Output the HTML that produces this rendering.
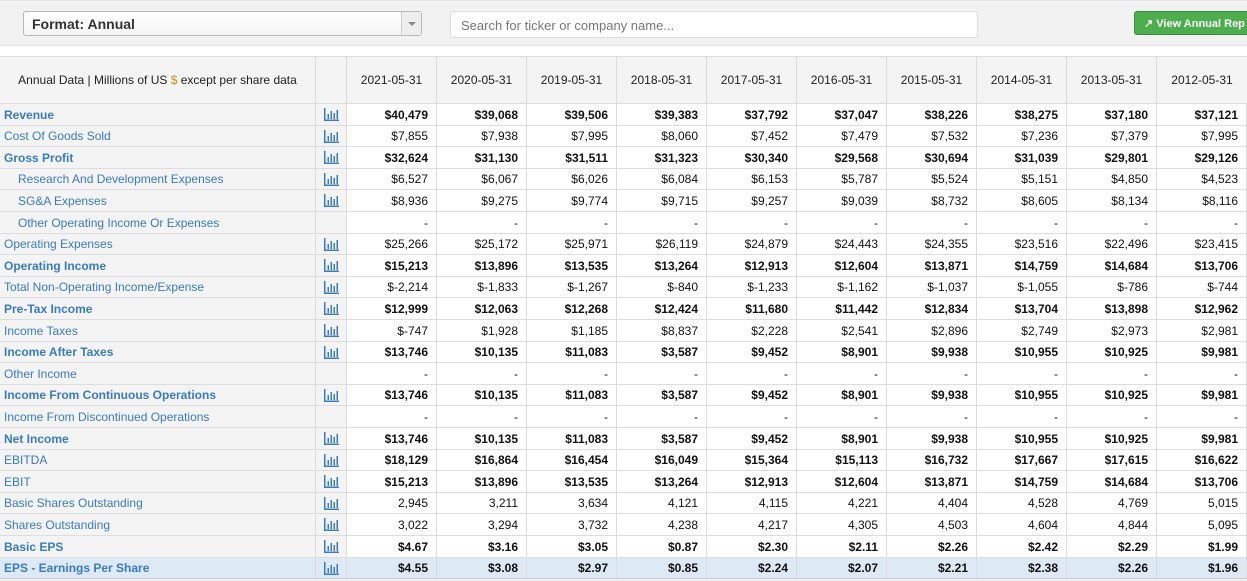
<!DOCTYPE html>
<html><head><meta charset="utf-8"><style>
*{box-sizing:border-box;margin:0;padding:0}
body{width:1247px;height:581px;overflow:hidden;background:#fff;font-family:"Liberation Sans",Arial,sans-serif;font-size:12px;position:relative}
.top{position:absolute;left:0;top:0;width:1247px;height:46px;background:#f2f2f2;border-bottom:1px solid #e2e2e2;border-top:1px solid #e6e6e6}
.sel{position:absolute;left:23px;top:10px;width:399px;height:25px;border:1px solid #b8b8b8;border-radius:3px;background:linear-gradient(#fff,#f4f4f4);font-weight:bold;font-size:14px;color:#333;padding:4px 8px}
.sel .ar{position:absolute;right:0;top:0;width:20px;height:23px;border-left:1px solid #ccc;background:#eee}
.sel .ar:after{content:"";position:absolute;left:6px;top:10px;border:4px solid transparent;border-top:4px solid #888}
.srch{position:absolute;left:450px;top:10px;width:528px;height:27px;border:1px solid #ddd;border-radius:3px;background:#fff;color:#777;font-size:13px;padding:6px 10px}
.btn{position:absolute;left:1134px;top:10px;width:120px;height:24px;border-radius:3px;background:#4cae4c;border:1px solid #3d8b3d;color:#fff;font-weight:bold;font-size:11px;padding:5px 0 0 9px;white-space:nowrap}
.tbl{position:absolute;left:0;top:56px;width:1247px;border-top:1px solid #ddd}
.r{display:flex;border-bottom:1px solid #ddd}
.c{border-right:1px solid #ddd;display:flex;align-items:center;justify-content:flex-end;padding-right:8px;color:#111}
.l{width:316px;background:#f4f4f4;justify-content:flex-start;padding-left:4px;color:#3a7bbf}
.i{width:31px;background:#f4f4f4;justify-content:center;padding:0}
.d{width:90px}
.h .c{background:#f4f4f4;justify-content:center;padding:0;color:#222}
.b .l,.b .d,.bv .d{font-weight:bold}
.ind .l{padding-left:18px}
.last .c{background:#dde9f4}
.sb{position:absolute;left:0;top:578px;width:1247px;height:3px;background:#f0f0f0;border-top:1px solid #ccc}
</style></head><body>
<div class="top">
<div class="sel">Format: Annual<div class="ar"></div></div>
<div class="srch">Search for ticker or company name...</div>
<div class="btn">&#x2197; View Annual Rep</div>
</div>
<svg width="0" height="0" style="position:absolute"><defs><g id="ic"><rect x="0" y="0" width="1.5" height="13" fill="#3a7bbf"/><rect x="0" y="11.5" width="15" height="1.5" fill="#3a7bbf"/><rect x="3.5" y="6" width="1.5" height="5" fill="#3a7bbf"/><rect x="6.5" y="3" width="1.5" height="8" fill="#3a7bbf"/><rect x="9.5" y="5" width="1.5" height="6" fill="#3a7bbf"/><rect x="12.5" y="2" width="1.5" height="9" fill="#3a7bbf"/></g></defs></svg>
<div class="tbl">
<div class="r h" style="height:47px"><div class="c l" style="justify-content:center;color:#222;padding:0">Annual Data | Millions of US&nbsp;<span style="color:#e08a00">$</span>&nbsp;except per share data</div><div class="c i"></div><div class="c d">2021-05-31</div><div class="c d">2020-05-31</div><div class="c d">2019-05-31</div><div class="c d">2018-05-31</div><div class="c d">2017-05-31</div><div class="c d">2016-05-31</div><div class="c d">2015-05-31</div><div class="c d">2014-05-31</div><div class="c d">2013-05-31</div><div class="c d" style="border-right:0">2012-05-31</div></div>

<div class="r b" style="height:22px"><div class="c l">Revenue</div><div class="c i"><svg width="15" height="13"><use href="#ic"/></svg></div><div class="c d">$40,479</div><div class="c d">$39,068</div><div class="c d">$39,506</div><div class="c d">$39,383</div><div class="c d">$37,792</div><div class="c d">$37,047</div><div class="c d">$38,226</div><div class="c d">$38,275</div><div class="c d">$37,180</div><div class="c d">$37,121</div></div>
<div class="r" style="height:21px"><div class="c l">Cost Of Goods Sold</div><div class="c i"><svg width="15" height="13"><use href="#ic"/></svg></div><div class="c d">$7,855</div><div class="c d">$7,938</div><div class="c d">$7,995</div><div class="c d">$8,060</div><div class="c d">$7,452</div><div class="c d">$7,479</div><div class="c d">$7,532</div><div class="c d">$7,236</div><div class="c d">$7,379</div><div class="c d">$7,995</div></div>
<div class="r b" style="height:22px"><div class="c l">Gross Profit</div><div class="c i"><svg width="15" height="13"><use href="#ic"/></svg></div><div class="c d">$32,624</div><div class="c d">$31,130</div><div class="c d">$31,511</div><div class="c d">$31,323</div><div class="c d">$30,340</div><div class="c d">$29,568</div><div class="c d">$30,694</div><div class="c d">$31,039</div><div class="c d">$29,801</div><div class="c d">$29,126</div></div>
<div class="r ind" style="height:21px"><div class="c l">Research And Development Expenses</div><div class="c i"><svg width="15" height="13"><use href="#ic"/></svg></div><div class="c d">$6,527</div><div class="c d">$6,067</div><div class="c d">$6,026</div><div class="c d">$6,084</div><div class="c d">$6,153</div><div class="c d">$5,787</div><div class="c d">$5,524</div><div class="c d">$5,151</div><div class="c d">$4,850</div><div class="c d">$4,523</div></div>
<div class="r ind" style="height:22px"><div class="c l">SG&amp;A Expenses</div><div class="c i"><svg width="15" height="13"><use href="#ic"/></svg></div><div class="c d">$8,936</div><div class="c d">$9,275</div><div class="c d">$9,774</div><div class="c d">$9,715</div><div class="c d">$9,257</div><div class="c d">$9,039</div><div class="c d">$8,732</div><div class="c d">$8,605</div><div class="c d">$8,134</div><div class="c d">$8,116</div></div>
<div class="r ind" style="height:22px"><div class="c l">Other Operating Income Or Expenses</div><div class="c i"></div><div class="c d">-</div><div class="c d">-</div><div class="c d">-</div><div class="c d">-</div><div class="c d">-</div><div class="c d">-</div><div class="c d">-</div><div class="c d">-</div><div class="c d">-</div><div class="c d">-</div></div>
<div class="r" style="height:21px"><div class="c l">Operating Expenses</div><div class="c i"><svg width="15" height="13"><use href="#ic"/></svg></div><div class="c d">$25,266</div><div class="c d">$25,172</div><div class="c d">$25,971</div><div class="c d">$26,119</div><div class="c d">$24,879</div><div class="c d">$24,443</div><div class="c d">$24,355</div><div class="c d">$23,516</div><div class="c d">$22,496</div><div class="c d">$23,415</div></div>
<div class="r b" style="height:22px"><div class="c l">Operating Income</div><div class="c i"><svg width="15" height="13"><use href="#ic"/></svg></div><div class="c d">$15,213</div><div class="c d">$13,896</div><div class="c d">$13,535</div><div class="c d">$13,264</div><div class="c d">$12,913</div><div class="c d">$12,604</div><div class="c d">$13,871</div><div class="c d">$14,759</div><div class="c d">$14,684</div><div class="c d">$13,706</div></div>
<div class="r" style="height:21px"><div class="c l">Total Non-Operating Income/Expense</div><div class="c i"><svg width="15" height="13"><use href="#ic"/></svg></div><div class="c d">$-2,214</div><div class="c d">$-1,833</div><div class="c d">$-1,267</div><div class="c d">$-840</div><div class="c d">$-1,233</div><div class="c d">$-1,162</div><div class="c d">$-1,037</div><div class="c d">$-1,055</div><div class="c d">$-786</div><div class="c d">$-744</div></div>
<div class="r b" style="height:22px"><div class="c l">Pre-Tax Income</div><div class="c i"><svg width="15" height="13"><use href="#ic"/></svg></div><div class="c d">$12,999</div><div class="c d">$12,063</div><div class="c d">$12,268</div><div class="c d">$12,424</div><div class="c d">$11,680</div><div class="c d">$11,442</div><div class="c d">$12,834</div><div class="c d">$13,704</div><div class="c d">$13,898</div><div class="c d">$12,962</div></div>
<div class="r" style="height:22px"><div class="c l">Income Taxes</div><div class="c i"><svg width="15" height="13"><use href="#ic"/></svg></div><div class="c d">$-747</div><div class="c d">$1,928</div><div class="c d">$1,185</div><div class="c d">$8,837</div><div class="c d">$2,228</div><div class="c d">$2,541</div><div class="c d">$2,896</div><div class="c d">$2,749</div><div class="c d">$2,973</div><div class="c d">$2,981</div></div>
<div class="r b" style="height:21px"><div class="c l">Income After Taxes</div><div class="c i"><svg width="15" height="13"><use href="#ic"/></svg></div><div class="c d">$13,746</div><div class="c d">$10,135</div><div class="c d">$11,083</div><div class="c d">$3,587</div><div class="c d">$9,452</div><div class="c d">$8,901</div><div class="c d">$9,938</div><div class="c d">$10,955</div><div class="c d">$10,925</div><div class="c d">$9,981</div></div>
<div class="r" style="height:22px"><div class="c l">Other Income</div><div class="c i"></div><div class="c d">-</div><div class="c d">-</div><div class="c d">-</div><div class="c d">-</div><div class="c d">-</div><div class="c d">-</div><div class="c d">-</div><div class="c d">-</div><div class="c d">-</div><div class="c d">-</div></div>
<div class="r b" style="height:21px"><div class="c l">Income From Continuous Operations</div><div class="c i"><svg width="15" height="13"><use href="#ic"/></svg></div><div class="c d">$13,746</div><div class="c d">$10,135</div><div class="c d">$11,083</div><div class="c d">$3,587</div><div class="c d">$9,452</div><div class="c d">$8,901</div><div class="c d">$9,938</div><div class="c d">$10,955</div><div class="c d">$10,925</div><div class="c d">$9,981</div></div>
<div class="r" style="height:22px"><div class="c l">Income From Discontinued Operations</div><div class="c i"></div><div class="c d">-</div><div class="c d">-</div><div class="c d">-</div><div class="c d">-</div><div class="c d">-</div><div class="c d">-</div><div class="c d">-</div><div class="c d">-</div><div class="c d">-</div><div class="c d">-</div></div>
<div class="r b" style="height:22px"><div class="c l">Net Income</div><div class="c i"><svg width="15" height="13"><use href="#ic"/></svg></div><div class="c d">$13,746</div><div class="c d">$10,135</div><div class="c d">$11,083</div><div class="c d">$3,587</div><div class="c d">$9,452</div><div class="c d">$8,901</div><div class="c d">$9,938</div><div class="c d">$10,955</div><div class="c d">$10,925</div><div class="c d">$9,981</div></div>
<div class="r bv" style="height:21px"><div class="c l">EBITDA</div><div class="c i"><svg width="15" height="13"><use href="#ic"/></svg></div><div class="c d">$18,129</div><div class="c d">$16,864</div><div class="c d">$16,454</div><div class="c d">$16,049</div><div class="c d">$15,364</div><div class="c d">$15,113</div><div class="c d">$16,732</div><div class="c d">$17,667</div><div class="c d">$17,615</div><div class="c d">$16,622</div></div>
<div class="r bv" style="height:22px"><div class="c l">EBIT</div><div class="c i"><svg width="15" height="13"><use href="#ic"/></svg></div><div class="c d">$15,213</div><div class="c d">$13,896</div><div class="c d">$13,535</div><div class="c d">$13,264</div><div class="c d">$12,913</div><div class="c d">$12,604</div><div class="c d">$13,871</div><div class="c d">$14,759</div><div class="c d">$14,684</div><div class="c d">$13,706</div></div>
<div class="r" style="height:21px"><div class="c l">Basic Shares Outstanding</div><div class="c i"><svg width="15" height="13"><use href="#ic"/></svg></div><div class="c d">2,945</div><div class="c d">3,211</div><div class="c d">3,634</div><div class="c d">4,121</div><div class="c d">4,115</div><div class="c d">4,221</div><div class="c d">4,404</div><div class="c d">4,528</div><div class="c d">4,769</div><div class="c d">5,015</div></div>
<div class="r" style="height:22px"><div class="c l">Shares Outstanding</div><div class="c i"><svg width="15" height="13"><use href="#ic"/></svg></div><div class="c d">3,022</div><div class="c d">3,294</div><div class="c d">3,732</div><div class="c d">4,238</div><div class="c d">4,217</div><div class="c d">4,305</div><div class="c d">4,503</div><div class="c d">4,604</div><div class="c d">4,844</div><div class="c d">5,095</div></div>
<div class="r b" style="height:22px"><div class="c l">Basic EPS</div><div class="c i"><svg width="15" height="13"><use href="#ic"/></svg></div><div class="c d">$4.67</div><div class="c d">$3.16</div><div class="c d">$3.05</div><div class="c d">$0.87</div><div class="c d">$2.30</div><div class="c d">$2.11</div><div class="c d">$2.26</div><div class="c d">$2.42</div><div class="c d">$2.29</div><div class="c d">$1.99</div></div>
<div class="r b last" style="height:21px"><div class="c l">EPS - Earnings Per Share</div><div class="c i"><svg width="15" height="13"><use href="#ic"/></svg></div><div class="c d">$4.55</div><div class="c d">$3.08</div><div class="c d">$2.97</div><div class="c d">$0.85</div><div class="c d">$2.24</div><div class="c d">$2.07</div><div class="c d">$2.21</div><div class="c d">$2.38</div><div class="c d">$2.26</div><div class="c d">$1.96</div></div>
</div>
<div class="sb"></div>
</body></html>
